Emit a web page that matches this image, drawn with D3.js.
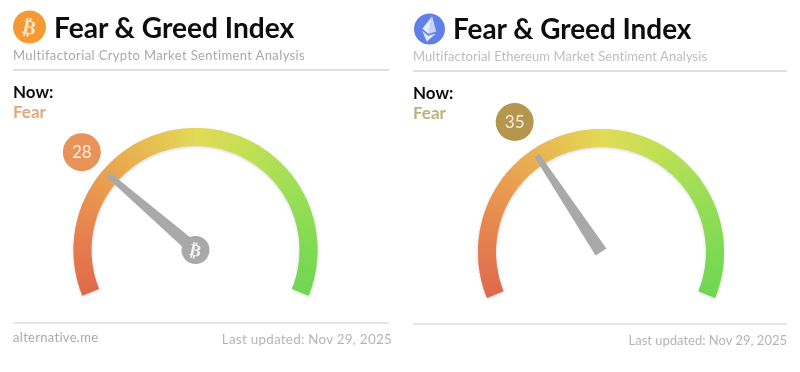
<!DOCTYPE html>
<html>
<head>
<meta charset="utf-8">
<script src="https://cdn.jsdelivr.net/npm/d3@7/dist/d3.min.js"></script>
<style>
  html, body { margin: 0; padding: 0; background: #fff; }
  svg { display: block; }
  text { font-family: Lato, "Open Sans", sans-serif; }
</style>
</head>
<body>
<div id="chart"></div>
<script>
// values
const coins = ['bitcoin', 'ethereum'];
const scores = [28, 35];
const moods = ['Fear', 'Fear'];
const titles = ['Fear & Greed Index', 'Fear & Greed Index'];
const subtitles = ['Multifactorial Crypto Market Sentiment Analysis', 'Multifactorial Ethereum Market Sentiment Analysis'];
const sources = ['alternative.me', ''];
const updated = ['Last updated: Nov 29, 2025', 'Last updated: Nov 29, 2025'];
const stopValues = [0, 12, 25, 38, 50, 62, 75, 88, 100];
const stopColors = ['#df6a4b', '#e57f50', '#ea9c50', '#e8bb52', '#e3da56', '#c3df54', '#9fdf55', '#83da54', '#6fd652'];

const width = 800, height = 372;

// one entry per panel
const layout = [
  { left: 13, right: 389, cx: 195.5, cy: 250, outer: 122, ruleTop: 70, ruleBottom: 323, dy: 0, badge: 150, badgeFill: '#e8935a', moodFill: '#e0a87c', iconFill: '#f39a31', updatedX: 392, titleX: 54, titleSize: 28.1, subFill: '#a9a9a9', subSpacing: 0.38, footSpacing: 0.27, footSize: 13.4 },
  { left: 413, right: 787, cx: 601, cy: 252, outer: 123, ruleTop: 71, ruleBottom: 324, dy: 1, badge: 156, badgeFill: '#b5964f', moodFill: '#b9b27c', iconFill: '#6180e8', updatedX: 787, titleX: 453, titleSize: 27.9, subFill: '#bdbdbd', subSpacing: 0.08, footSpacing: 0, footSize: 13 }
];

const svg = d3.select('#chart').append('svg')
  .attr('width', width)
  .attr('height', height);

const defs = svg.append('defs');
defs.append('filter').attr('id', 'soft')
  .append('feGaussianBlur').attr('stdDeviation', 0.45);
const shadow = defs.append('filter').attr('id', 'shade')
  .attr('x', '-10%').attr('y', '-10%').attr('width', '120%').attr('height', '120%');
shadow.append('feDropShadow')
  .attr('dx', 0).attr('dy', 1).attr('stdDeviation', 1.5)
  .attr('flood-color', '#888').attr('flood-opacity', 0.35);

const angle = d3.scaleLinear().domain([0, 100]).range([-112, 112]);
const color = d3.scaleLinear().domain(stopValues).range(stopColors);
const rad = d => d * Math.PI / 180;

const root = svg.append('g').attr('filter', 'url(#soft)');

coins.forEach((coin, i) => {
  const p = layout[i];
  const g = root.append('g');

  // header
  const icon = g.append('g').attr('transform', `translate(${p.left + 16.5}, ${27 + p.dy * 2})`);
  icon.append('circle').attr('r', coin === 'bitcoin' ? 16.5 : 15.5).attr('fill', p.iconFill);
  if (coin === 'bitcoin') {
    icon.append('text').attr('text-anchor', 'middle').attr('y', 7)
      .attr('transform', 'rotate(12)')
      .style('font-family', 'DejaVu Sans').style('font-weight', 700)
      .attr('font-size', 20).attr('fill', '#fbe3c4').text('\u20BF');
  } else {
    const eth = icon.append('g').attr('transform', 'rotate(12)');
    eth.append('path').attr('d', 'M0,-13 L-7,1 L0,5 Z').attr('fill', '#ffffff').attr('opacity', 0.85);
    eth.append('path').attr('d', 'M0,-13 L7,1 L0,5 Z').attr('fill', '#c9d4fa');
    eth.append('path').attr('d', 'M-7,3 L0,7 L7,3 L0,13 Z').attr('fill', '#dfe5fc');
  }

  g.append('text').attr('x', p.titleX).attr('y', 38 + p.dy)
    .attr('font-size', p.titleSize).attr('font-weight', 700).attr('fill', '#0a0a0a')
    .text(titles[i]);
  g.append('text').attr('x', p.left).attr('y', 60 + p.dy)
    .attr('font-size', 13).attr('fill', p.subFill).attr('letter-spacing', p.subSpacing)
    .text(subtitles[i]);
  g.append('line').attr('x1', p.left).attr('x2', p.right)
    .attr('y1', p.ruleTop).attr('y2', p.ruleTop)
    .attr('stroke', '#d6d6d6').attr('stroke-width', 1.3);

  g.append('text').attr('x', p.left).attr('y', 98 + p.dy)
    .attr('font-size', 17).attr('font-weight', 700).attr('fill', '#111').text('Now:');
  g.append('text').attr('x', p.left).attr('y', 118 + p.dy)
    .attr('font-size', 17).attr('font-weight', 700).attr('fill', p.moodFill).text(moods[i]);

  // gauge band, short slices so the colour runs along the arc
  const gauge = g.append('g').attr('transform', `translate(${p.cx}, ${p.cy})`);
  const arc = d3.arc().innerRadius(p.outer - 18).outerRadius(p.outer);
  gauge.append('g').attr('filter', 'url(#shade)')
    .selectAll('path.band')
    .data(d3.range(0, 100, 0.5))
    .enter()
    .append('path')
    .attr('class', 'band')
    .attr('d', d => arc({ startAngle: rad(angle(d)), endAngle: rad(angle(Math.min(d + 0.7, 100))) }))
    .attr('fill', d => color(d));

  // needle
  const a = rad(angle(scores[i]));
  const ux = Math.sin(a), uy = -Math.cos(a);
  const nx = -uy, ny = ux;
  const tip = p.outer - 7;
  const tipHalf = 2.8;
  const baseHalf = 6.5;
  const needle = [
    [ux * tip + nx * tipHalf, uy * tip + ny * tipHalf],
    [ux * tip - nx * tipHalf, uy * tip - ny * tipHalf],
    [-nx * baseHalf, -ny * baseHalf],
    [nx * baseHalf, ny * baseHalf]
  ];
  gauge.append('path')
    .attr('d', d3.line()(needle) + 'Z')
    .attr('fill', '#a9a9a9');

  if (coin === 'bitcoin') {
    const hub = gauge.append('g');
    hub.append('circle').attr('r', 14).attr('fill', '#a9a9a9');
    hub.append('text').attr('text-anchor', 'middle').attr('y', 6)
      .attr('transform', 'rotate(12)')
      .style('font-family', 'DejaVu Sans').style('font-weight', 700)
      .attr('font-size', 17).attr('fill', '#f2f2f2').text('\u20BF');
  }

  // value badge
  const bx = ux * p.badge, by = uy * p.badge;
  gauge.append('circle').attr('cx', bx).attr('cy', by).attr('r', 19).attr('fill', p.badgeFill);
  gauge.append('text').attr('x', bx).attr('y', by + 6)
    .attr('text-anchor', 'middle').attr('font-size', 17).attr('fill', '#fbeedd')
    .text(scores[i]);

  // footer
  g.append('line').attr('x1', p.left).attr('x2', p.right)
    .attr('y1', p.ruleBottom).attr('y2', p.ruleBottom)
    .attr('stroke', '#dcdcdc').attr('stroke-width', 1.3);
  g.append('text').attr('x', p.left).attr('y', 342)
    .attr('font-size', 13).attr('fill', '#a9a9a9').attr('letter-spacing', 0.3)
    .text(sources[i]);
  g.append('text').attr('x', p.updatedX).attr('y', 344 + p.dy)
    .attr('text-anchor', 'end')
    .attr('font-size', p.footSize).attr('fill', '#b5b5b5').attr('letter-spacing', p.footSpacing)
    .text(updated[i]);
});
</script>
</body>
</html>
